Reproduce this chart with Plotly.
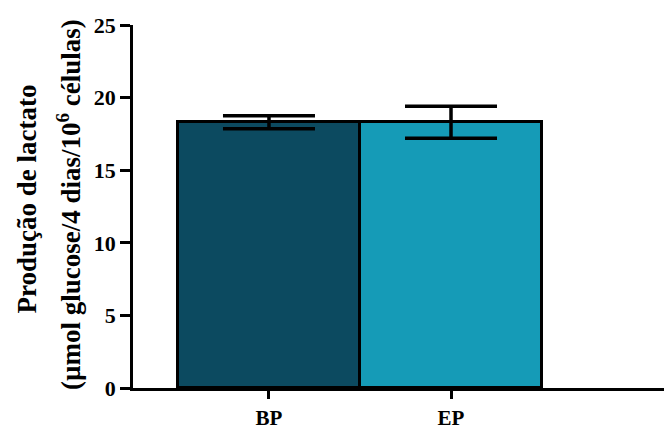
import plotly.graph_objects as go

categories = ["BP", "EP"]
values = [18.3, 18.3]
errors = [0.45, 1.1]
bar_colors = ["#0c4a60", "#159bb7"]
y_ticks = [0, 5, 10, 15, 20, 25]

fig = go.Figure()
fig.add_trace(go.Bar(
    x=categories, y=values,
    marker=dict(color=bar_colors, line=dict(color="black", width=3)),
    error_y=dict(type="data", array=errors, visible=True, color="black",
                 thickness=3.5, width=46),
    width=1.0,
))

font_family = "Liberation Serif, Times New Roman, serif"
# page body has an 8px default margin, so the figure is sized to fill the rest
fig.update_layout(
    width=664, height=422,
    margin=dict(l=125, r=0, t=17, b=42, autoexpand=False),
    plot_bgcolor="white", paper_bgcolor="white",
    showlegend=False,
    bargap=0,
    font=dict(family=font_family, color="black"),
)
fig.update_yaxes(
    range=[0, 25], tickvals=y_ticks, ticks="outside", ticklen=10, tickwidth=2.5,
    tickcolor="black", showline=True, linecolor="black", linewidth=2.5,
    showgrid=False, zeroline=False, automargin=False,
    tickfont=dict(family=font_family, size=22, color="black"),
    ticktext=[f"<b>{v}</b>" for v in y_ticks],
)
fig.update_xaxes(
    type="category", range=[-0.747, 2.214], ticks="outside", ticklen=8, tickwidth=2.5,
    tickcolor="black", showline=True, linecolor="black", linewidth=2.5,
    showgrid=False, zeroline=False, automargin=False, ticklabelstandoff=1,
    tickvals=categories, ticktext=[f"<b>{c}</b>" for c in categories],
    tickfont=dict(family=font_family, size=21, color="black"),
)
fig.add_annotation(
    text="<b>Produção de lactato</b>", textangle=-90, xref="paper", yref="paper",
    x=-0.196, y=0.52, xanchor="center", yanchor="middle", showarrow=False,
    font=dict(family=font_family, size=27, color="black"),
)
fig.add_annotation(
    text="<b>(µmol glucose/4 dias/10<sup>6</sup> células)</b>", textangle=-90, xref="paper", yref="paper",
    x=-0.12, y=0.505, xanchor="center", yanchor="middle", showarrow=False,
    font=dict(family=font_family, size=27, color="black"),
)

fig.write_html("out.html")
